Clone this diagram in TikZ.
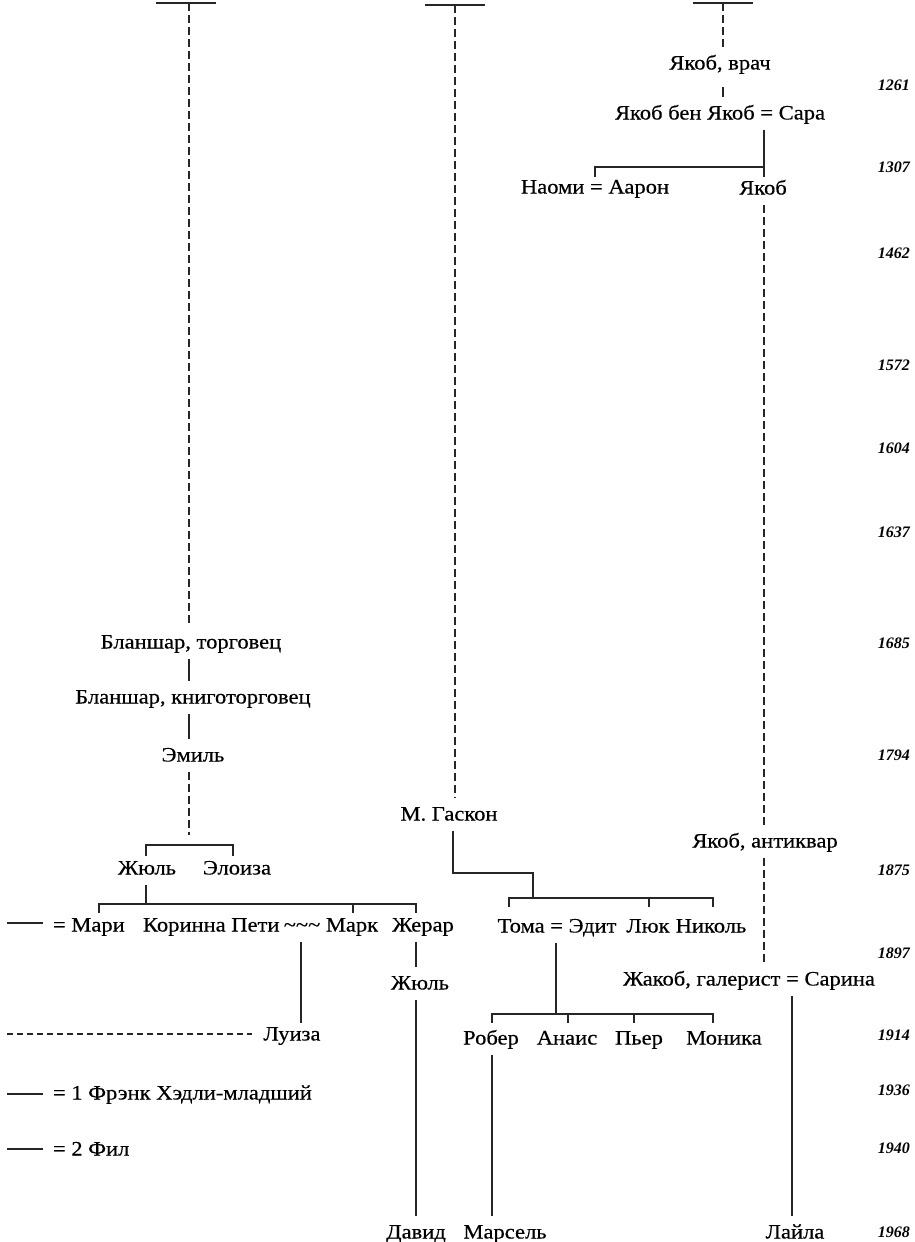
\documentclass[tikz,border=0pt]{standalone}
\usepackage{fontspec}
\setmainfont{Liberation Serif}
\newfontfamily\namefam[FakeStretch=1.1,FakeBold=0.4]{Liberation Serif}
\newcommand\nmf{\namefam\fontsize{20.5}{24}\selectfont}
\newcommand\dtf{\fontsize{16}{19}\selectfont\bfseries\itshape}
\tikzset{
  nm/.style={font=\nmf, inner sep=0pt, text height=14pt, text depth=1pt, outer xsep=0pt, outer ysep=9pt},
  dt/.style={font=\dtf, anchor=east, inner sep=0pt, text height=10pt, text depth=0pt},
  ln/.style={line width=1.2pt, black!85},
  dsh/.style={line width=1.2pt, black!85, dash pattern=on 8pt off 4pt},
  dshh/.style={line width=1.1pt, black!85, dash pattern=on 6pt off 4pt}
}
\begin{document}
\begin{tikzpicture}[x=1pt,y=-1pt]
\useasboundingbox[fill=white] (0,0) rectangle (915,1242);

% ---------- names ----------
\node[nm] (yv) at (720,63) {Якоб, врач};
\node[nm] (ybj) at (720,113) {Якоб бен Якоб = Сара};
\node[nm] (naomi) at (595,187) {Наоми = Аарон};
\node[nm] (yak) at (763,188) {Якоб};
\node[nm] (yant) at (765,841) {Якоб, антиквар};
\node[nm] (zhak) at (749,979) {Жакоб, галерист = Сарина};
\node[nm] (layla) at (795,1232) {Лайла};

\node[nm] (bt) at (191,642) {Бланшар, торговец};
\node[nm] (bk) at (193,697) {Бланшар, книготорговец};
\node[nm] (emil) at (193,755) {Эмиль};
\node[nm] (zh1) at (147,868) {Жюль};
\node[nm] (elo) at (237,868) {Элоиза};
\node[nm,anchor=west] (mari) at (53,925) {= Мари};
\node[nm,anchor=west] (kor) at (143,925) {Коринна Пети};
\node[nm] (til) at (302,925) {\textasciitilde\textasciitilde\textasciitilde};
\node[nm] (mark) at (352,925) {Марк};
\node[nm] (zher) at (423,925) {Жерар};
\node[nm] (zh2) at (420,983) {Жюль};
\node[nm] (luiza) at (292,1034) {Луиза};
\node[nm,anchor=west] (frank) at (53,1093) {= 1 Фрэнк Хэдли-младший};
\node[nm,anchor=west] (fil) at (53,1149) {= 2 Фил};
\node[nm] (david) at (416,1232) {Давид};

\node[nm] (gas) at (449,814) {М. Гаскон};
\node[nm] (toma) at (557,926) {Тома = Эдит};
\node[nm] (luk) at (648,926) {Люк};
\node[nm] (nik) at (711,926) {Николь};
\node[nm] (rob) at (491,1038) {Робер};
\node[nm] (anais) at (567,1038) {Анаис};
\node[nm] (pier) at (639,1038) {Пьер};
\node[nm] (monika) at (724,1038) {Моника};
\node[nm] (mars) at (505,1232) {Марсель};

% ---------- dates ----------
\foreach \yr/\yy in {1261/85,1307/167,1462/253,1572/365,1604/448,1637/532,1685/643,1794/755,1875/870,1897/953,1914/1035,1936/1090,1940/1148,1968/1232}
  \node[dt] (d\yr) at (910,\yy) {\yr};

% ---------- top bars ----------
\coordinate (b1) at (189,3);
\coordinate (b2) at (455,5);
\coordinate (b3) at (723,3);
\draw[ln] ([xshift=-33pt]b1) -- ([xshift=27pt]b1);
\draw[ln] ([xshift=-30pt]b2) -- ([xshift=30pt]b2);
\draw[ln] ([xshift=-30pt]b3) -- ([xshift=30pt]b3);

% ---------- right line ----------
\draw[dsh] (b3) -- (b3 |- yv.north);
\coordinate (c1) at (723,87);
\draw[ln] (c1) -- (c1 |- ybj.north);
\coordinate (c2) at (764,167);
\draw[ln] (c2 |- ybj.south) -- (c2) -- ++(0,10);
\draw[ln] (c2) -- (c2 -| naomi) -- ++(0,10);
\draw[dsh] (yak.south -| c2) -- (c2 |- yant.north);
\draw[dsh] (yant.south -| c2) -- (c2 |- zhak.north);
\coordinate (c3) at (792,1000);
\draw[ln] (c3 |- zhak.south) -- (c3 |- layla.north);

% ---------- left line ----------
\coordinate (a0) at (189,845);
\draw[dsh] (b1) -- (b1 |- bt.north);
\draw[ln] (bt.south -| a0) -- (a0 |- bk.north);
\draw[ln] (bk.south -| a0) -- (a0 |- emil.north);
\draw[dsh] (emil.south -| a0) -- ([yshift=10pt]a0);
\coordinate (a1) at (146,845);
\coordinate (a2) at (233,845);
\draw[ln] ([yshift=-11pt]a1) -- (a1) -- (a2) -- ++(0,11);
\coordinate (a3) at (146,904);
\draw[ln] (zh1.south -| a3) -- (a3);
\coordinate (a4) at (99,904);
\coordinate (a5) at (353,904);
\coordinate (a6) at (416,904);
\draw[ln] ([yshift=-9pt]a4) -- (a4) -- (a6) -- ++(0,9);
\draw[ln] (a5) -- ++(0,9);
\coordinate (a7) at (301,943);
\draw[ln] (til.south -| a7) -- ([yshift=-5pt]a7 |- luiza.north);
\draw[ln] (zher.south -| a6) -- (a6 |- zh2.north);
\draw[ln] (zh2.south -| a6) -- (a6 |- david.north);

\coordinate (l1) at (7,923);
\coordinate (l2) at (7,1034);
\coordinate (l3) at (7,1094);
\coordinate (l4) at (7,1149);
\draw[ln] (l1) -- ([xshift=-10pt]mari.west |- l1);
\draw[dshh] (l2) -- ([xshift=-12pt]luiza.west |- l2);
\draw[ln] (l3) -- ([xshift=-10pt]frank.west |- l3);
\draw[ln] (l4) -- ([xshift=-10pt]fil.west |- l4);

% ---------- middle line ----------
\draw[dsh] (b2) -- (b2 |- gas.north);
\coordinate (m1) at (453,873);
\coordinate (m2) at (533,873);
\coordinate (m3) at (533,898);
\draw[ln] (gas.south -| m1) -- (m1) -- (m2) -- (m3);
\coordinate (m4) at (509,898);
\coordinate (m5) at (649,898);
\coordinate (m6) at (713,898);
\draw[ln] ([yshift=-9pt]m4) -- (m4) -- (m6) -- ++(0,9);
\draw[ln] (m5) -- ++(0,9);
\coordinate (m7) at (556,1014);
\draw[ln] (toma.south -| m7) -- (m7);
\coordinate (m8) at (492,1014);
\coordinate (m9) at (568,1014);
\coordinate (m10) at (634,1014);
\coordinate (m11) at (713,1014);
\draw[ln] ([yshift=-9pt]m8) -- (m8) -- (m11) -- ++(0,9);
\draw[ln] (m9) -- ++(0,9);
\draw[ln] (m10) -- ++(0,9);
\draw[ln] (rob.south -| m8) -- (m8 |- mars.north);
\end{tikzpicture}
\end{document}
